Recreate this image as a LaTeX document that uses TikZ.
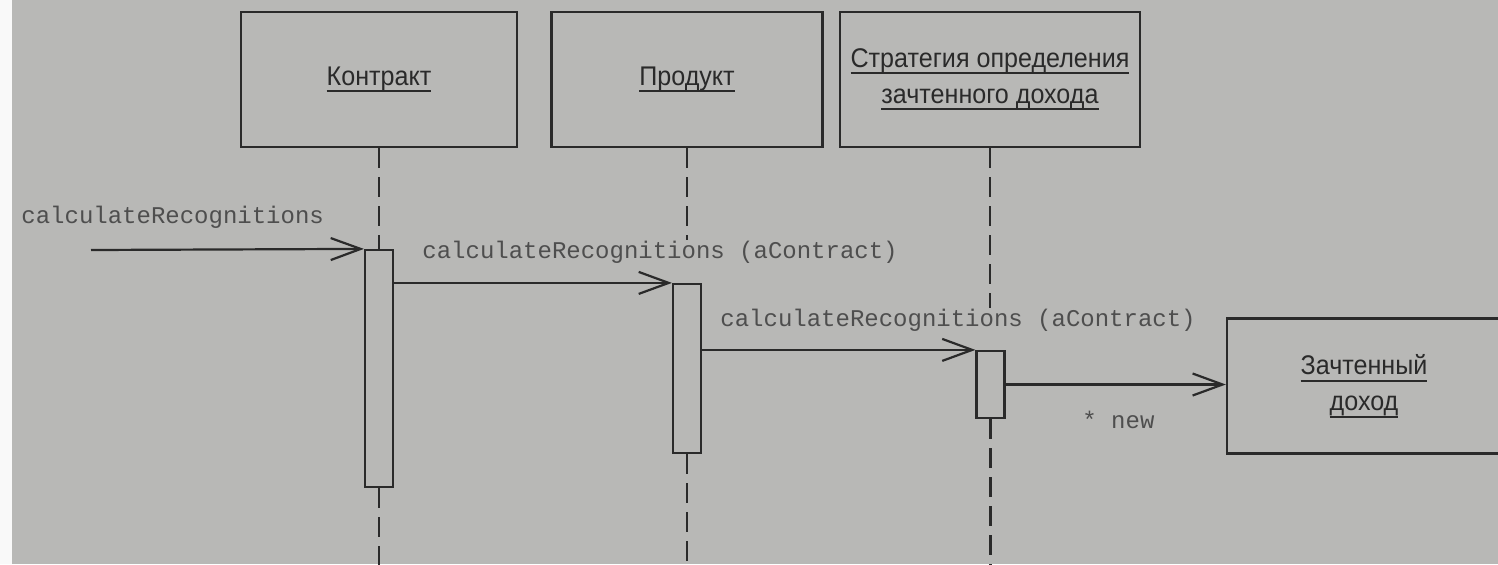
\documentclass[tikz,border=0pt]{standalone}
\usepackage{fontspec}
\newfontfamily\objfont[FakeStretch=0.93]{Liberation Sans}
\newfontfamily\msgfont{Liberation Mono}
\usetikzlibrary{arrows.meta}
\definecolor{paper}{RGB}{184,184,182}
\definecolor{ink}{RGB}{42,42,42}
\definecolor{msgink}{RGB}{78,78,78}
\newcommand\ulabel[1]{\setbox0\hbox{#1}\rlap{\rule[-3.5pt]{\wd0}{1pt}}\box0}
\tikzset{
  every object/.style={draw=ink, line width=1.2pt, minimum height=67.5pt, inner sep=0pt,
    align=center, text=ink, font=\objfont\fontsize{13.5}{18}\selectfont},
  activation/.style={draw=ink, line width=1.1pt, minimum width=14pt, inner sep=0pt},
  message/.style={draw=ink, line width=1.1pt, -{Straight Barb[length=15pt, width=11pt, line width=1.1pt]}},
  lifeline/.style={draw=ink, line width=1.1pt, dash pattern=on 10pt off 4.5pt},
  msg label/.style={anchor=west, inner sep=0pt, text=msgink, font=\msgfont\fontsize{12}{14}\selectfont}
}
\begin{document}
\begin{tikzpicture}[x=0.5pt, y=-0.5pt]
  \useasboundingbox (0,0) rectangle (1498,564);
  \fill [paper] (0,0) rectangle (1498,564);
  \fill [white!92!paper] (0,0) rectangle (12,564);
  \foreach \n/\x/\w/\l in {contract/379/138/{\ulabel{Контракт}},
      product/687/135.5/{\ulabel{Продукт}},
      strategy/990/150/{\ulabel{Стратегия определения}\\\ulabel{зачтенного дохода}}}
    \node [every object/.try, minimum width=\w pt] (obj-\n) at (\x,79.5) {\l};
  \node [every object/.try, minimum width=137pt] (obj-income) at (1364,386)
    {\ulabel{Зачтенный}\\\ulabel{доход}};
  \foreach \x/\y/\h [count=\i] in {379/368.5/118.5, 687/368.5/84.5, 990.5/384.5/33.5}
    \node [activation, minimum height=\h pt] (act-\i) at (\x,\y) {};
  \node [msg label] (lbl-1) at (21,217) {calculateRecognitions};
  \node [msg label] (lbl-2) at (422,252) {calculateRecognitions (aContract)};
  \node [msg label] (lbl-3) at (720,320) {calculateRecognitions (aContract)};
  \node [msg label] (lbl-4) at (1082,420) {* new};
  \coordinate (bottom) at (0,570);
  \coordinate (caller) at (91,250);
  \foreach \n/\s [count=\i] in {contract/act-1, product/lbl-2, strategy/lbl-3} {
    \draw [lifeline] (obj-\n.south) -- (obj-\n.south |- \s.north);
    \draw [lifeline] (act-\i.south) -- (act-\i.south |- bottom);
  }
  \draw [message] (caller) -- (act-1.north west);
  \draw [message] (act-1.east |- act-2.north) -- (act-2.north west);
  \draw [message] (act-2.east |- act-3.north) -- (act-3.north west);
  \draw [message] (act-3.east) -- (act-3.east -| obj-income.west);
\end{tikzpicture}
\end{document}
